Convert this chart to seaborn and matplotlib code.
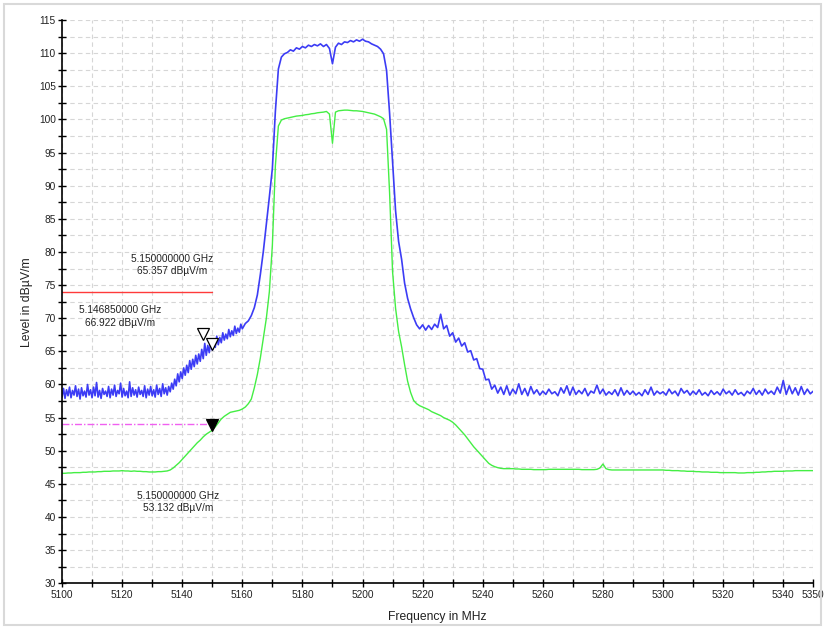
import matplotlib
matplotlib.use("Agg")

import matplotlib.pyplot as plt
import numpy as np
import pandas as pd
import seaborn as sns
from matplotlib.ticker import FixedLocator, MultipleLocator
from matplotlib.transforms import offset_copy
from matplotlib.patches import Rectangle

# peak trace is swept finer below 5160 MHz
peak_freq = np.concatenate([np.arange(5100, 5160.01, 0.5), np.arange(5161, 5351, 1)])

# max peak trace (blue), dBuV/m
peak_level = [
	# 5100 - 5160 in 0.5 MHz steps
	58.1, 59.4, 57.9, 59.2, 58.3, 59.6, 58.0, 59.1, 58.4, 59.8,
	58.2, 59.3, 57.8, 59.5, 58.3, 59.0, 58.1, 60.0, 58.4, 59.2,
	58.0, 59.6, 58.3, 60.3, 58.1, 59.1, 57.9, 59.4, 58.5, 59.0,
	58.2, 59.7, 58.0, 59.3, 58.4, 59.9, 58.2, 59.1, 58.6, 60.2,
	58.1, 59.4, 58.3, 59.0, 58.0, 60.4, 58.2, 59.5, 58.4, 59.2,
	58.1, 59.6, 58.5, 59.1, 58.2, 59.8, 58.0, 59.3, 58.4, 59.7,
	58.3, 59.2, 58.1, 59.9, 58.5, 59.4, 58.2, 60.1, 58.6, 59.5,
	58.4, 59.7, 58.9, 60.2, 59.3, 60.8, 59.8, 61.6, 60.4, 61.9,
	60.9, 62.5, 61.4, 62.9, 61.8, 63.6, 62.3, 63.8, 62.7, 64.4,
	63.1, 64.6, 63.5, 65.3, 63.9, 66.2, 64.4, 65.9, 64.8, 66.5,
	65.2, 66.8, 65.6, 67.3, 66.0, 67.1, 66.3, 67.8, 66.7, 67.6,
	66.9, 68.3, 67.2, 68.1, 67.4, 68.8, 67.7, 68.5, 67.9, 69.1,
	68.4,
	# 5161 - 5350 in 1 MHz steps
	69.2, 69.6, 70.4, 71.6, 73.5, 76.6, 80.1, 84.2, 88.3,
	92.6, 101.2, 107.6, 109.4, 109.9, 110.1, 110.5, 110.3, 110.8, 110.6,
	111.0, 110.8, 111.2, 111.0, 111.3, 111.1, 111.4, 111.0, 111.3, 110.7,
	108.4, 110.9, 111.5, 111.3, 111.7, 111.6, 111.9, 111.7, 112.0, 111.8,
	112.1, 111.8, 111.7, 111.4, 111.2, 111.0, 110.6, 109.9, 107.4, 101.0,
	93.5, 86.2, 81.6, 78.9, 75.3, 73.0, 71.4, 70.1, 69.0, 68.4,
	69.0, 68.2, 68.9, 68.3, 69.1, 68.6, 70.6, 68.4, 68.9, 67.3,
	67.8, 66.4, 67.0, 65.8, 66.3, 64.9, 65.1, 63.7, 63.9, 62.4,
	62.3, 60.7, 60.8, 59.3, 59.9, 58.7, 59.6, 58.5, 59.8, 58.4,
	59.3, 58.6, 60.1, 58.5, 59.4, 58.3, 59.7, 58.6, 59.2, 58.4,
	59.0, 58.5, 59.3, 58.6, 58.9, 58.3, 59.5, 58.7, 59.8, 58.4,
	59.6, 58.5, 59.1, 58.6, 59.4, 58.3, 59.0, 58.7, 59.9, 58.6,
	59.3, 58.4, 58.9, 58.5, 59.2, 58.3, 59.5, 58.4, 59.1, 58.5,
	59.0, 58.4, 58.8, 58.3, 59.2, 58.5, 59.6, 58.4, 59.0, 58.6,
	58.9, 58.4, 59.3, 58.6, 59.0, 58.3, 59.4, 58.7, 59.1, 58.4,
	59.0, 58.5, 59.2, 58.4, 58.8, 58.3, 59.1, 58.5, 58.9, 58.4,
	59.3, 58.6, 59.0, 58.4, 59.2, 58.5, 58.8, 58.3, 59.0, 58.6,
	59.4, 58.5, 59.1, 58.4, 59.3, 58.6, 59.0, 58.5, 59.6, 58.7,
	60.6, 58.5, 59.8, 58.6, 59.5, 58.4, 59.7, 58.5, 59.3, 58.6,
	59.0,
]

# average trace (green), 1 MHz steps, dBuV/m
avg_freq = np.arange(5100, 5351, 1)
avg_level = [
	46.6, 46.6, 46.65, 46.65, 46.7, 46.7, 46.7, 46.75, 46.75, 46.8,
	46.8, 46.8, 46.85, 46.85, 46.9, 46.9, 46.9, 46.95, 46.95, 46.95,
	47.0, 46.95, 46.95, 46.9, 46.95, 46.9, 46.9, 46.85, 46.85, 46.8,
	46.8, 46.8, 46.85, 46.85, 46.9, 46.95, 47.1, 47.4, 47.8, 48.2,
	48.7, 49.2, 49.7, 50.2, 50.7, 51.2, 51.6, 52.1, 52.5, 52.8,
	53.1, 53.6, 54.2, 54.8, 55.2, 55.5, 55.8, 55.9, 56.0, 56.1,
	56.3, 56.6, 57.1, 57.8, 59.5, 61.5, 64.0, 67.0, 70.0, 74.0,
	81.0, 93.0, 99.0, 99.9, 100.1, 100.2, 100.3, 100.4, 100.5, 100.55,
	100.6, 100.7, 100.75, 100.85, 100.9, 101.0, 101.05, 101.1, 101.2, 100.8,
	96.4, 101.1, 101.3, 101.35, 101.4, 101.4, 101.35, 101.3, 101.3, 101.25,
	101.2, 101.1, 101.0, 100.9, 100.8, 100.6, 100.4, 100.1, 98.5, 89.0,
	77.0, 71.5, 68.0, 65.7, 63.0, 60.5, 58.8, 57.6, 57.1, 56.8,
	56.6, 56.4, 56.2, 55.9, 55.7, 55.5, 55.3, 55.0, 54.8, 54.6,
	54.3, 53.9, 53.4, 52.9, 52.4, 51.8, 51.2, 50.6, 50.1, 49.6,
	49.1, 48.6, 48.1, 47.8, 47.6, 47.45, 47.35, 47.3, 47.3, 47.3,
	47.3, 47.25, 47.25, 47.2, 47.2, 47.2, 47.2, 47.15, 47.15, 47.15,
	47.15, 47.15, 47.2, 47.2, 47.2, 47.2, 47.2, 47.2, 47.2, 47.2,
	47.2, 47.2, 47.2, 47.15, 47.15, 47.15, 47.15, 47.15, 47.2, 47.4,
	48.0, 47.3, 47.15, 47.1, 47.1, 47.1, 47.1, 47.1, 47.1, 47.1,
	47.1, 47.1, 47.1, 47.1, 47.1, 47.1, 47.1, 47.1, 47.1, 47.1,
	47.1, 47.05, 47.05, 47.0, 47.0, 47.0, 46.95, 46.95, 46.9, 46.9,
	46.9, 46.85, 46.85, 46.8, 46.8, 46.8, 46.75, 46.75, 46.75, 46.7,
	46.7, 46.7, 46.7, 46.7, 46.7, 46.65, 46.65, 46.65, 46.7, 46.7,
	46.7, 46.75, 46.75, 46.8, 46.8, 46.85, 46.85, 46.9, 46.9, 46.9,
	46.9, 46.95, 46.95, 46.95, 47.0, 47.0, 47.0, 47.0, 47.0, 47.0,
	47.0,
]

# limit lines (peak limit red, average limit magenta)
limit_freq = [5100, 5150]
peak_limit = [74, 74]
avg_limit = [54, 54]

# markers: freq (GHz), level, filled?
marker_ghz = [5.146850000, 5.150000000, 5.150000000]
marker_level = [66.922, 65.357, 53.132]
marker_filled = [False, False, True]
# where each marker's readout sits relative to the marker (pixels)
marker_text_offset = [(-83, 22), (-40, 84), (-34, -72)]

x_ticks = list(range(5100, 5351, 10))
x_tick_labels = [str(t) if (t - 5100) % 20 == 0 or t == 5350 else "" for t in x_ticks]

sns.set_theme(style="white")
plt.rcParams['font.family'] = ['Liberation Sans', 'DejaVu Sans']

fig = plt.figure(figsize=(8.25, 6.27), dpi=100)
ax = fig.add_axes([62 / 825, 1 - 583.3 / 627, 751.3 / 825, 563.3 / 627])

peak_df = pd.DataFrame({"freq": peak_freq, "level": peak_level})
avg_df = pd.DataFrame({"freq": avg_freq, "level": avg_level})
sns.lineplot(data=avg_df, x="freq", y="level", color="#44ee44", lw=1.0, estimator=None, sort=False, ax=ax)
sns.lineplot(data=peak_df, x="freq", y="level", color="#3c3cf5", lw=1.2, estimator=None, sort=False, ax=ax)

ax.plot(limit_freq, peak_limit, color="#ff3a3a", lw=1.0)
ax.plot(limit_freq, avg_limit, color="#f060f0", lw=1.0, ls=(0, (5, 1.5, 1, 1.5)))

# triangle tips sit on the measured point
tip = offset_copy(ax.transData, fig=fig, x=0, y=5, units='dots')
for ghz, lvl, filled, off in zip(marker_ghz, marker_level, marker_filled, marker_text_offset):
	mhz = ghz * 1000
	ax.plot([mhz], [lvl], marker="v", ms=8, mew=0.9, mec="black",
		mfc="black" if filled else "white", transform=tip, ls="none")
	ax.annotate("%.9f GHz\n%.3f dBµV/m" % (ghz, lvl), xy=(mhz, lvl),
		xytext=off, textcoords="offset pixels", ha="center", va="center",
		fontsize=7.3, linespacing=1.35, color="#222222")

ax.set_xlim(5100, 5350)
ax.set_ylim(30, 115)
ax.xaxis.set_major_locator(FixedLocator(x_ticks))
ax.set_xticklabels(x_tick_labels)
ax.yaxis.set_major_locator(MultipleLocator(5))
ax.yaxis.set_minor_locator(MultipleLocator(2.5))

ax.grid(True, which="both", color="#d6d6d6", lw=0.8, ls=(0, (4, 3)))
ax.tick_params(which="both", direction="inout", length=6, width=1, color="black",
	labelsize=7.3, labelcolor="#222222", pad=1.5, left=True, bottom=True)
ax.tick_params(axis="x", pad=2)

for s in ["top", "right"]:
	ax.spines[s].set_visible(False)
for s in ["left", "bottom"]:
	ax.spines[s].set_color("black")
	ax.spines[s].set_linewidth(1.2)

ax.set_xlabel("Frequency in MHz", fontsize=8.7, color="#222222", labelpad=8)
ax.set_ylabel("Level in dBµV/m", fontsize=8.8, color="#222222", labelpad=4)

fig.add_artist(Rectangle((4 / 825, 2.5 / 627), 817 / 825, 620.5 / 627,
	transform=fig.transFigure, fill=False, ec="#d9d9d9", lw=1.5))

plt.savefig("out.png", dpi=100)
